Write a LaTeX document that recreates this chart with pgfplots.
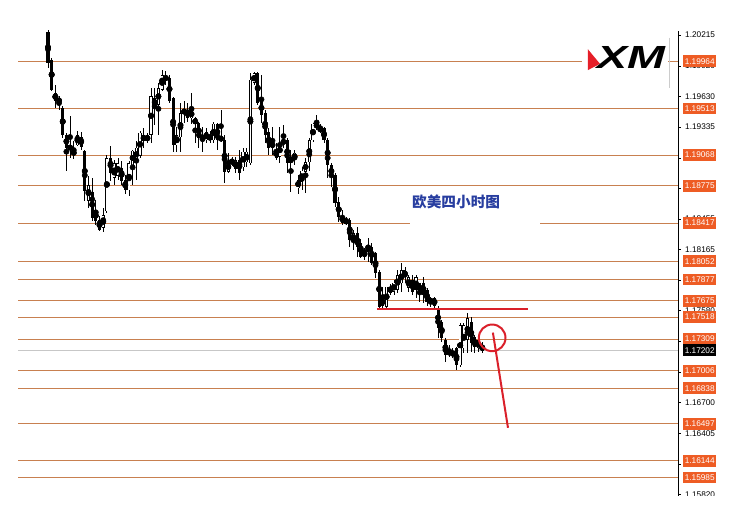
\documentclass[border=0pt]{standalone}
\usepackage{pgfplots}
\pgfplotsset{compat=1.18}
\usepackage{pgfplotstable}
\usepackage{graphicx}
\usepackage{fontspec}
\setmainfont{Liberation Sans}
\newfontfamily\cjk{Noto Sans CJK SC}
\definecolor{lvl}{RGB}{200,128,80}
\definecolor{lblor}{RGB}{238,92,36}
\definecolor{ttl}{RGB}{40,62,160}
\definecolor{xmred}{RGB}{230,30,40}
\definecolor{annred}{RGB}{218,32,42}

\pgfplotstableread{
i o h l c
0 1.2025 1.2026 1.1990 1.1995
1 1.1998 1.2000 1.1968 1.1969
2 1.1966 1.1974 1.1952 1.1959
3 1.1958 1.1963 1.1950 1.1960
4 1.1952 1.1954 1.1923 1.1926
5 1.1926 1.1928 1.1892 1.1914
6 1.1912 1.1944 1.1904 1.1916
7 1.1911 1.1920 1.1903 1.1907
8 1.1916 1.1930 1.1915 1.1926
9 1.1924 1.1929 1.1912 1.1915
10 1.1911 1.1912 1.1863 1.1872
11 1.1863 1.1887 1.1856 1.1878
12 1.1872 1.1885 1.1844 1.1847
13 1.1854 1.1864 1.1840 1.1844
14 1.1845 1.1849 1.1834 1.1835
15 1.1837 1.1856 1.1833 1.1849
16 1.1853 1.1907 1.1851 1.1904
17 1.1904 1.1915 1.1882 1.1890
18 1.1885 1.1902 1.1878 1.1899
19 1.1887 1.1904 1.1883 1.1899
20 1.1894 1.1901 1.1878 1.1882
21 1.1883 1.1888 1.1870 1.1873
22 1.1873 1.1901 1.1868 1.1899
23 1.1897 1.1912 1.1878 1.1911
24 1.1901 1.1920 1.1883 1.1914
25 1.1906 1.1930 1.1904 1.1928
26 1.1926 1.1933 1.1914 1.1920
27 1.1920 1.1928 1.1918 1.1926
28 1.1926 1.1971 1.1918 1.1963
29 1.1954 1.1971 1.1936 1.1961
30 1.1955 1.1976 1.1926 1.1971
31 1.1969 1.1988 1.1968 1.1983
32 1.1979 1.1987 1.1974 1.1982
33 1.1981 1.1983 1.1957 1.1959
34 1.1961 1.1962 1.1910 1.1916
35 1.1916 1.1934 1.1910 1.1926
36 1.1924 1.1957 1.1910 1.1947
37 1.1947 1.1959 1.1938 1.1950
38 1.1950 1.1957 1.1938 1.1942
39 1.1942 1.1966 1.1936 1.1950
40 1.1942 1.1943 1.1918 1.1936
41 1.1937 1.1938 1.1914 1.1923
42 1.1926 1.1934 1.1910 1.1921
43 1.1921 1.1933 1.1918 1.1929
44 1.1926 1.1930 1.1918 1.1921
45 1.1921 1.1938 1.1918 1.1937
46 1.1937 1.1938 1.1912 1.1921
47 1.1924 1.1950 1.1919 1.1921
48 1.1921 1.1926 1.1880 1.1891
49 1.1891 1.1909 1.1890 1.1900
50 1.1899 1.1905 1.1896 1.1902
51 1.1894 1.1905 1.1890 1.1902
52 1.1902 1.1912 1.1883 1.1890
53 1.1895 1.1914 1.1892 1.1910
54 1.1900 1.1914 1.1895 1.1910
55 1.1899 1.1985 1.1897 1.1979
56 1.1976 1.1986 1.1974 1.1985
57 1.1985 1.1986 1.1955 1.1957
58 1.1959 1.1983 1.1937 1.1945
59 1.1947 1.1950 1.1918 1.1926
60 1.1929 1.1933 1.1907 1.1914
61 1.1919 1.1934 1.1907 1.1914
62 1.1912 1.1918 1.1902 1.1904
63 1.1905 1.1934 1.1899 1.1918
64 1.1918 1.1936 1.1914 1.1921
65 1.1921 1.1923 1.1890 1.1899
66 1.1905 1.1912 1.1871 1.1899
67 1.1902 1.1912 1.1897 1.1909
68 1.1875 1.1888 1.1870 1.1883
69 1.1881 1.1895 1.1873 1.1892
70 1.1891 1.1904 1.1871 1.1900
71 1.1900 1.1923 1.1892 1.1921
72 1.1921 1.1938 1.1919 1.1937
73 1.1937 1.1945 1.1931 1.1933
74 1.1930 1.1937 1.1928 1.1933
75 1.1933 1.1934 1.1918 1.1921
76 1.1921 1.1923 1.1885 1.1897
77 1.1897 1.1899 1.1876 1.1886
78 1.1888 1.1890 1.1857 1.1861
79 1.1862 1.1867 1.1843 1.1848
80 1.1849 1.1854 1.1840 1.1842
81 1.1842 1.1848 1.1840 1.1845
82 1.1845 1.1847 1.1819 1.1826
83 1.1824 1.1835 1.1816 1.1832
84 1.1832 1.1838 1.1809 1.1819
85 1.1823 1.1827 1.1808 1.1809
86 1.1809 1.1818 1.1806 1.1816
87 1.1816 1.1828 1.1805 1.1821
88 1.1819 1.1823 1.1802 1.1804
89 1.1813 1.1814 1.1789 1.1794
90 1.1795 1.1797 1.1761 1.1762
91 1.1770 1.1781 1.1761 1.1763
92 1.1762 1.1781 1.1761 1.1781
93 1.1775 1.1784 1.1773 1.1781
94 1.1776 1.1787 1.1773 1.1785
95 1.1778 1.1797 1.1775 1.1792
96 1.1784 1.1804 1.1776 1.1797
97 1.1797 1.1800 1.1785 1.1790
98 1.1780 1.1792 1.1776 1.1790
99 1.1787 1.1792 1.1773 1.1776
100 1.1778 1.1792 1.1770 1.1790
101 1.1784 1.1785 1.1766 1.1776
102 1.1785 1.1790 1.1765 1.1773
103 1.1778 1.1780 1.1763 1.1766
104 1.1765 1.1771 1.1762 1.1770
105 1.1770 1.1771 1.1761 1.1763
106 1.1761 1.1763 1.1732 1.1742
107 1.1747 1.1749 1.1728 1.1732
108 1.1730 1.1732 1.1709 1.1716
109 1.1716 1.1725 1.1714 1.1720
110 1.1718 1.1722 1.1713 1.1716
111 1.1722 1.1723 1.1701 1.1706
112 1.1706 1.1746 1.1704 1.1744
113 1.1722 1.1746 1.1718 1.1744
114 1.1730 1.1756 1.1718 1.1751
115 1.1747 1.1752 1.1718 1.1727
116 1.1733 1.1735 1.1718 1.1723
117 1.1722 1.1733 1.1718 1.1730
118 1.1725 1.1728 1.1718 1.1720
}\candles

\tikzset{
  plabel/.style={anchor=west, fill=lblor, text=white, font=\fontsize{6.2}{7}\selectfont,
    inner xsep=0.8pt, inner ysep=0pt, minimum height=8.8pt, minimum width=24.75pt},
}
\newcommand{\plab}[2]{\node[plabel] at (axis cs:172.55,#1) {#2};}
\newcommand{\lvline}[1]{\addplot[lvl, line width=0.75pt, forget plot] coordinates {(-8.15,#1) (171.2,#1)};}

\begin{document}
\begin{tikzpicture}
\path[use as bounding box] (0,0) rectangle (563.25pt,-390pt);
\begin{axis}[
  at={(13.5pt,-23.25pt)}, anchor=north west,
  scale only axis, width=495pt, height=348.75pt,
  xmin=-8.15, xmax=171.2, ymin=1.15808, ymax=1.20254,
  clip=false,
  axis line style={draw=none},
  xtick=\empty,
  ytick={1.20215,1.19920,1.19630,1.19335,1.19040,1.18750,1.18455,1.18165,1.17870,1.17580,1.17290,1.16995,1.16700,1.16405,1.16115,1.15820},
  yticklabels={1.20215,1.19920,1.19630,1.19335,1.19040,1.18750,1.18455,1.18165,1.17870,1.17580,1.17290,1.16995,1.16700,1.16405,1.16115,1.15820},
  ytick pos=right, yticklabel pos=right,
  tick align=outside, major tick length=2.2pt,
  tick style={black, line width=0.5pt},
  yticklabel style={font=\fontsize{6.2}{7}\selectfont, text=black, inner sep=0pt, anchor=west, xshift=3pt},
]
% level lines
\lvline{1.19964}
\lvline{1.19513}
\lvline{1.19068}
\lvline{1.18775}
\addplot[lvl, line width=0.75pt, forget plot] coordinates {(-8.15,1.18417) (98.4,1.18417)};
\addplot[lvl, line width=0.75pt, forget plot] coordinates {(133.7,1.18417) (171.2,1.18417)};
\lvline{1.18052}
\lvline{1.17877}
\lvline{1.17675}
\lvline{1.17518}
\lvline{1.17309}
\lvline{1.17006}
\lvline{1.16838}
\lvline{1.16497}
\lvline{1.16144}
\lvline{1.15985}
\addplot[black!22, line width=0.6pt, forget plot] coordinates {(-8.15,1.17202) (171.2,1.17202)};

% wicks
\addplot[only marks, mark=none, forget plot,
  error bars/.cd, y dir=both, y explicit, error mark=none,
  error bar style={draw=black, line width=0.6pt}]
  table[x=i, y expr={(\thisrow{h}+\thisrow{l})/2}, y error expr={(\thisrow{h}-\thisrow{l})/2}] {\candles};
% bodies
\addplot[only marks, mark=none, forget plot,
  error bars/.cd, y dir=both, y explicit, error mark=none,
  error bar style={draw=black, line width=2.3pt}]
  table[x=i, y expr={(\thisrow{o}+\thisrow{c})/2}, y error expr={max(abs(\thisrow{o}-\thisrow{c})/2,0.00005)}] {\candles};
% white inner of bullish bodies
\addplot[only marks, mark=none, forget plot,
  error bars/.cd, y dir=both, y explicit, error mark=none,
  error bar style={draw=white, line width=1.1pt}]
  table[x=i, y expr={(\thisrow{o}+\thisrow{c})/2}, y error expr={max((\thisrow{c}-\thisrow{o})/2-0.00006,0)}] {\candles};

% annotations
\addplot[annred, line width=1.6pt, forget plot] coordinates {(89.4,1.1760) (130.4,1.1760)};
\addplot[only marks, mark=o, mark size=10pt, annred, mark options={line width=1.5pt}, forget plot] coordinates {(120.7,1.1732)};
\addplot[annred, line width=1.5pt, forget plot] coordinates {(120.9,1.1737) (125.0,1.1646)};

% title
\node[text=ttl, font=\cjk\bfseries\fontsize{11}{13}\selectfont] at (axis cs:110.9,1.1862) {欧美四小时图};

% logo
\fill[white] (axis cs:145.1,1.2017) rectangle (axis cs:168.5,1.1973);
\draw[black!20, line width=0.5pt] (axis cs:168.75,1.2019) -- (axis cs:168.75,1.1971);
\fill[xmred] (axis cs:146.7,1.2008) -- (axis cs:150.0,1.1994) -- (axis cs:146.7,1.1988) -- cycle;
\node[anchor=base, inner sep=0pt, font=\fontsize{24}{24}\selectfont\bfseries\itshape] at (axis cs:158.4,1.1990) {\scalebox{1.42}[1]{XM}};

% right axis line
\draw[black, line width=0.6pt] (rel axis cs:1,0) -- (rel axis cs:1,1);

% price labels
\plab{1.19964}{1.19964}
\plab{1.19513}{1.19513}
\plab{1.19068}{1.19068}
\plab{1.18775}{1.18775}
\plab{1.18417}{1.18417}
\plab{1.18052}{1.18052}
\plab{1.17877}{1.17877}
\plab{1.17675}{1.17675}
\plab{1.17518}{1.17518}
\plab{1.17309}{1.17309}
\node[plabel, fill=black] at (axis cs:172.55,1.17202) {1.17202};
\plab{1.17006}{1.17006}
\plab{1.16838}{1.16838}
\plab{1.16497}{1.16497}
\plab{1.16144}{1.16144}
\plab{1.15985}{1.15985}
\fill[white] (axis cs:171.35,1.15808) rectangle (axis cs:200,1.1550);
\end{axis}
\end{tikzpicture}
\end{document}
